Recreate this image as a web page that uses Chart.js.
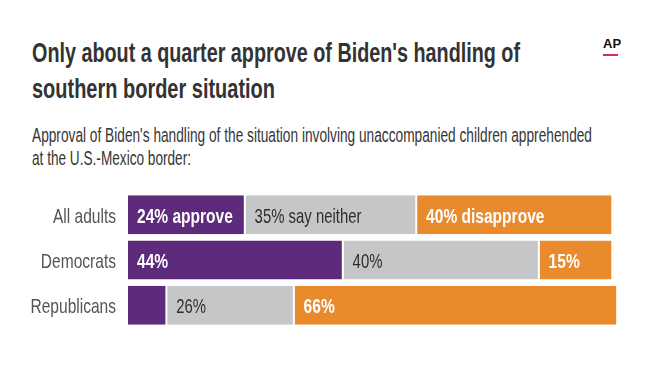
<!DOCTYPE html>
<html>
<head>
<meta charset="utf-8">
<script src="https://cdn.jsdelivr.net/npm/chart.js@4"></script>
<style>
  html, body { margin: 0; padding: 0; background: #fff; }
  body { width: 654px; height: 374px; position: relative; overflow: hidden; }
  .txt { position: absolute; left: 32px; white-space: nowrap; transform-origin: 0 0;
         font-family: "Liberation Sans Narrow", "Liberation Sans", sans-serif; }
  .title { font-size: 28px; line-height: 28px; font-weight: bold; color: #333; }
  .sub { font-size: 20.5px; line-height: 20.5px; color: #363636; }
  #ap { position: absolute; left: 603px; top: 36px; font: bold 13px "Liberation Sans Narrow", sans-serif; color: #111; }
  #apline { position: absolute; left: 603px; top: 54px; width: 15px; height: 2px; background: #d4304f; }
  #c { position: absolute; left: 0; top: 185px; }
</style>
</head>
<body>
<div class="txt title" style="top:39px" data-w="488">Only about a quarter approve of Biden's handling of</div>
<div class="txt title" style="top:74.5px" data-w="243">southern border situation</div>
<div class="txt sub" style="top:124.6px" data-w="560">Approval of Biden's handling of the situation involving unaccompanied children apprehended</div>
<div class="txt sub" style="top:147.6px" data-w="159">at the U.S.-Mexico border:</div>
<div id="ap">AP</div>
<div id="apline"></div>
<canvas id="c" width="654" height="150"></canvas>
<script>
// squeeze text lines to the condensed widths of the original
document.querySelectorAll('[data-w]').forEach(el => {
  const w = el.getBoundingClientRect().width;
  el.style.transform = 'scaleX(' + (+el.dataset.w / w) + ')';
});

const groups = ['All adults', 'Democrats', 'Republicans'];
const approve = [24, 44, 8];
const neither = [35, 40, 26];
const disapprove = [40, 15, 66];
const approveLabels = ['24% approve', '44%', ''];
const neitherLabels = ['35% say neither', '40%', '26%'];
const disapproveLabels = ['40% disapprove', '15%', '66%'];

const FONT = '"Liberation Sans", sans-serif';

// no condensed face installed, so squeeze the text horizontally
function squeezed(ctx, txt, x, y, sx) {
  ctx.save();
  ctx.translate(x, y);
  ctx.scale(sx, 1);
  ctx.fillText(txt, 0, 0);
  ctx.restore();
}

const condensedText = {
  id: 'condensedText',
  afterDatasetsDraw(chart) {
    const ctx = chart.ctx;
    ctx.save();
    ctx.textBaseline = 'alphabetic';

    // category names on the y axis
    const yScale = chart.scales.y;
    ctx.textAlign = 'right';
    ctx.fillStyle = '#555';
    ctx.font = '21px ' + FONT;
    yScale.getLabels().forEach((lab, i) => {
      squeezed(ctx, lab, yScale.right - 12, yScale.getPixelForValue(i) + 8, 0.74);
    });

    // value labels inside the bars
    ctx.textAlign = 'left';
    chart.data.datasets.forEach((ds, di) => {
      chart.getDatasetMeta(di).data.forEach((bar, i) => {
        const txt = ds.labels[i];
        if (!txt) return;
        ctx.fillStyle = ds.labelColor;
        ctx.font = (ds.labelBold ? 'bold ' : '') + '21px ' + FONT;
        squeezed(ctx, txt, Math.min(bar.x, bar.base) + 9, bar.y + 8, ds.labelBold ? 0.74 : 0.71);
      });
    });
    ctx.restore();
  }
};

const common = { borderColor: '#fff', borderWidth: { right: 1.8 }, borderSkipped: false,
                 barPercentage: 0.86, categoryPercentage: 1 };

new Chart(document.getElementById('c'), {
  type: 'bar',
  data: {
    labels: groups,
    datasets: [
      Object.assign({ label: 'Approve', data: approve, backgroundColor: '#5e2a7c',
        labels: approveLabels, labelColor: '#fff', labelBold: true }, common),
      Object.assign({ label: 'Neither', data: neither, backgroundColor: '#c4c6c8',
        labels: neitherLabels, labelColor: '#2e2e2e', labelBold: false }, common),
      Object.assign({ label: 'Disapprove', data: disapprove, backgroundColor: '#e98b2d',
        labels: disapproveLabels, labelColor: '#fff', labelBold: true }, common)
    ]
  },
  options: {
    indexAxis: 'y',
    responsive: false,
    animation: false,
    layout: { padding: { top: 7, bottom: 7, right: 36, left: 0 } },
    plugins: { legend: { display: false }, tooltip: { enabled: false } },
    scales: {
      x: { stacked: true, min: 0, max: 100, display: false },
      y: {
        stacked: true,
        grid: { display: false },
        border: { display: false },
        ticks: { display: false },
        afterFit(scale) { scale.width = 128; }
      }
    }
  },
  plugins: [condensedText]
});
</script>
</body>
</html>
